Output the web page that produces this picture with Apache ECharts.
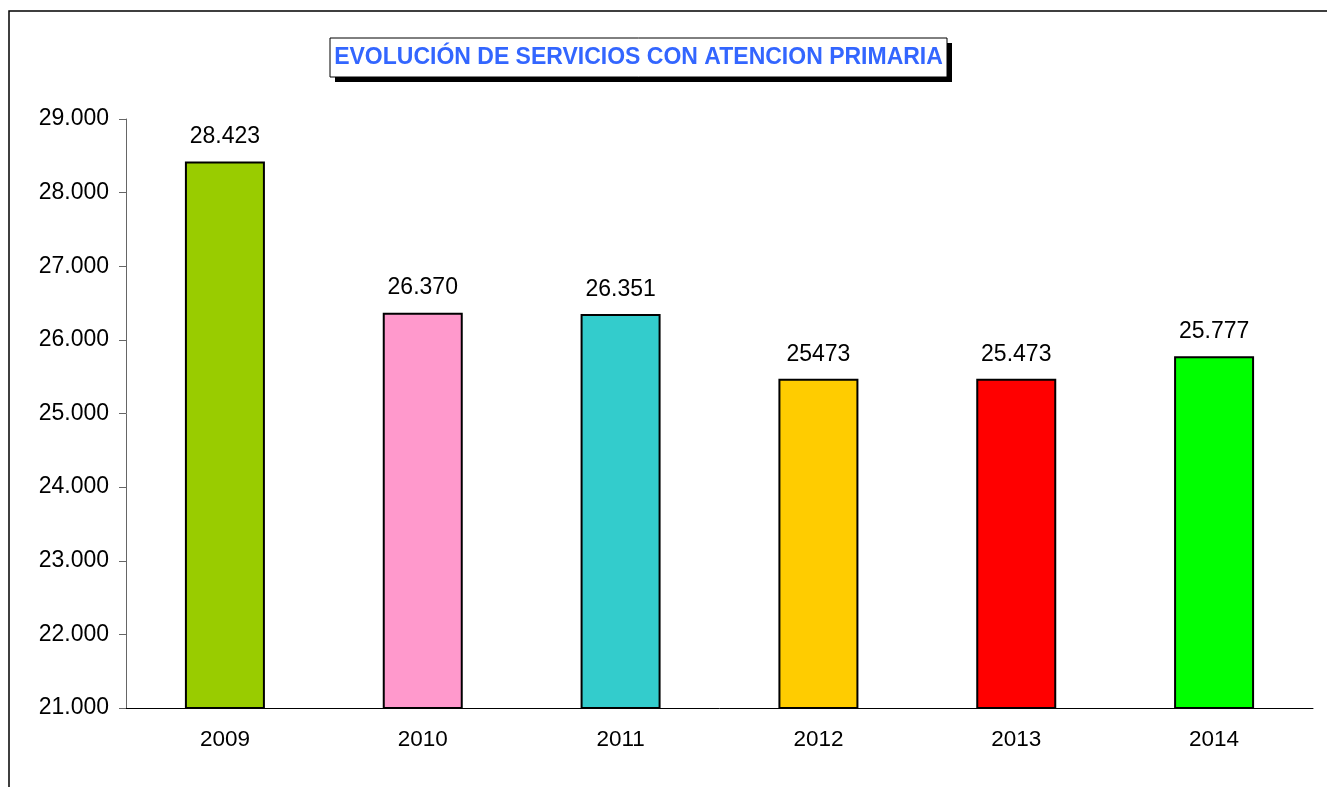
<!DOCTYPE html>
<html>
<head>
<meta charset="utf-8">
<script src="https://cdn.jsdelivr.net/npm/echarts@6/dist/echarts.min.js"></script>
<style>
  html, body { margin: 0; padding: 0; background: #fff; }
  #chart { width: 1327px; height: 787px; }
</style>
</head>
<body>
<div id="chart"></div>
<script>
// Years on the category axis
const years = ['2009', '2010', '2011', '2012', '2013', '2014'];
// Value labels as printed above each bar
const valueLabels = ['28.423', '26.370', '26.351', '25473', '25.473', '25.777'];
// Bar values, taken from the printed labels ('.' is the thousands separator)
const values = valueLabels.map(s => Number(s.replace(/\./g, '')));
// One fill colour per year
const barColors = ['#99CC00', '#FF99CC', '#33CCCC', '#FFCC00', '#FF0000', '#00FF00'];
// Y axis range
const yMin = 21000, yMax = 29000, yStep = 1000;

const FONT = '"Liberation Sans", Arial, sans-serif';
const fmtThousands = v => String(v).replace(/\B(?=(\d{3})+(?!\d))/g, '.');

const chart = echarts.init(document.getElementById('chart'), null, { renderer: 'canvas' });

chart.setOption({
  animation: false,
  backgroundColor: '#ffffff',
  grid: { left: 126, right: 14, top: 119, bottom: 79 },
  xAxis: {
    type: 'category',
    data: years,
    axisLine: { lineStyle: { color: '#000', width: 1 } },
    axisTick: { length: 6, lineStyle: { color: '#808080' } },
    axisLabel: { margin: 20, color: '#000', fontFamily: FONT, fontSize: 22.5 }
  },
  yAxis: {
    type: 'value',
    min: yMin, max: yMax, interval: yStep,
    axisLine: { show: true, lineStyle: { color: '#666', width: 1 } },
    axisTick: { show: true, length: 7, lineStyle: { color: '#666' } },
    splitLine: { show: false },
    axisLabel: { margin: 17, color: '#000', fontFamily: FONT, fontSize: 23, formatter: fmtThousands }
  },
  series: [{
    type: 'bar',
    barWidth: 80,
    data: values.map((v, i) => ({
      value: v,
      itemStyle: { color: barColors[i], borderColor: '#000', borderWidth: 2 },
      label: { formatter: valueLabels[i] }
    })),
    label: { show: true, position: 'top', distance: 13, color: '#000', fontFamily: FONT, fontSize: 23 }
  }],
  graphic: [
    // outer frame (open on the right and bottom)
    { type: 'rect', shape: { x: 9, y: 11, width: 1400, height: 900 },
      style: { fill: 'none', stroke: '#000', lineWidth: 1.5 }, silent: true },
    // title box with drop shadow
    { type: 'rect', shape: { x: 335, y: 43, width: 617, height: 39 },
      style: { fill: '#000' }, silent: true },
    { type: 'rect', shape: { x: 330, y: 38, width: 617, height: 39 },
      style: { fill: '#fff', stroke: '#000', lineWidth: 1 }, silent: true },
    { type: 'text', x: 638.5, y: 58,
      style: { text: 'EVOLUCIÓN DE SERVICIOS CON ATENCION PRIMARIA', fill: '#3366FF',
               font: 'bold 23px ' + FONT, align: 'center', verticalAlign: 'middle' }, silent: true }
  ]
});
</script>
</body>
</html>
